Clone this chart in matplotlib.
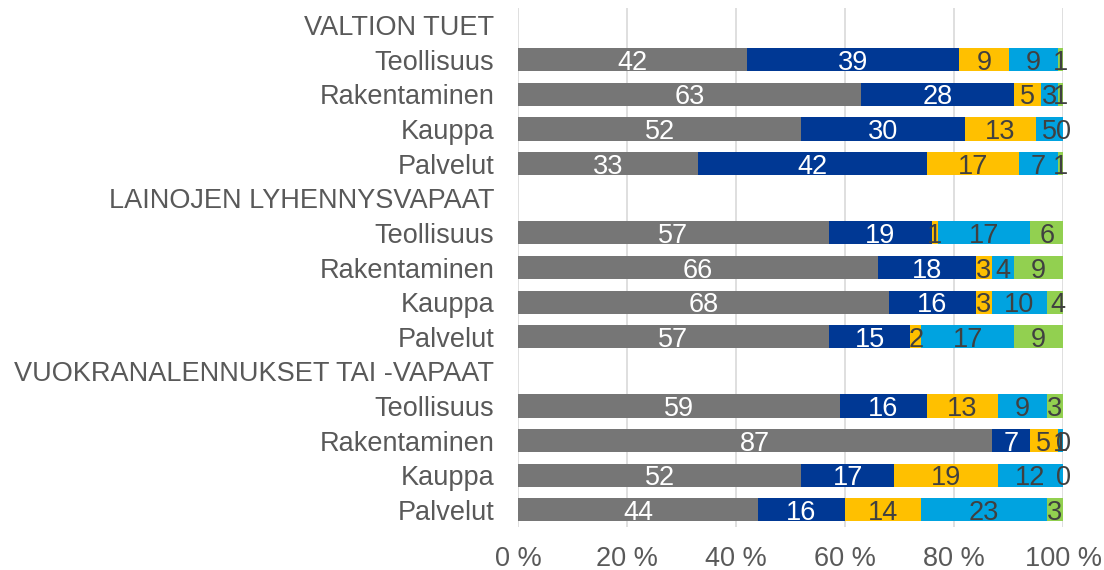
import numpy as np
import matplotlib
matplotlib.use("Agg")
import matplotlib.pyplot as plt

plt.rcParams['font.family'] = ['Liberation Sans', 'DejaVu Sans']

# row labels, top to bottom; header rows have no bars
labels = ["VALTION TUET", "Teollisuus", "Rakentaminen", "Kauppa", "Palvelut",
          "LAINOJEN LYHENNYSVAPAAT", "Teollisuus", "Rakentaminen", "Kauppa", "Palvelut",
          "VUOKRANALENNUKSET TAI -VAPAAT", "Teollisuus", "Rakentaminen", "Kauppa", "Palvelut"]

s1 = [None, 42, 63, 52, 33, None, 57, 66, 68, 57, None, 59, 87, 52, 44]
s2 = [None, 39, 28, 30, 42, None, 19, 18, 16, 15, None, 16, 7, 17, 16]
s3 = [None, 9, 5, 13, 17, None, 1, 3, 3, 2, None, 13, 5, 19, 14]
s4 = [None, 9, 3, 5, 7, None, 17, 4, 10, 17, None, 9, 1, 12, 23]
s5 = [None, 1, 1, 0, 1, None, 6, 9, 4, 9, None, 3, 0, 0, 3]

series = [s1, s2, s3, s4, s5]
colors = ["#767676", "#003894", "#FFC000", "#00A3E0", "#92D050"]
text_colors = ["white", "white", "#404040", "#404040", "#404040"]

fig = plt.figure(figsize=(11.04, 5.70), dpi=100)
ax = fig.add_axes([0.4692, 0.0754, 0.4937, 0.9106])

FS = 19.5
y = np.arange(len(labels))
left = np.zeros(len(labels))
for vals, col, tcol in zip(series, colors, text_colors):
    v = np.array([0 if x is None else x for x in vals], dtype=float)
    ax.barh(y, v, left=left, height=0.67, color=col, zorder=2)
    for i, x in enumerate(vals):
        if x is None:
            continue
        ax.text(left[i] + x / 2, y[i], str(x), ha="center", va="center_baseline",
                color=tcol, fontsize=FS, zorder=3)
    left += v

ax.set_xlim(0, 100)
ax.set_ylim(len(labels) - 0.5, -0.5)
ax.set_yticks(y)
ax.set_yticklabels(labels, va="center_baseline")
ax.set_xticks(np.arange(0, 101, 20))
ax.set_xticklabels(["%d %%" % t for t in range(0, 101, 20)])
ax.tick_params(axis="both", length=0, labelsize=FS, labelcolor="#595959")
ax.tick_params(axis="y", pad=17)
ax.tick_params(axis="x", pad=13.5)
ax.grid(axis="x", color="#d9d9d9", linewidth=1.2, zorder=0)
for sp in ax.spines.values():
    sp.set_visible(False)

fig.savefig("out.png", dpi=100)
